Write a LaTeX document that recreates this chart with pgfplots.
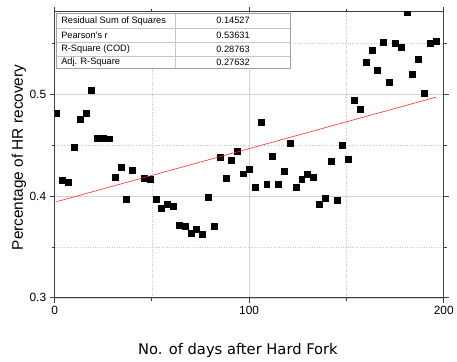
\documentclass[border=0pt]{standalone}
\usepackage{pgfplots}
\pgfplotsset{compat=1.18}
\usepackage{fontspec}
\setmainfont{Liberation Sans}
\newfontfamily\dejavu{DejaVu Sans}
\begin{document}
\begin{tikzpicture}
\begin{axis}[
  scale only axis, width=392pt, height=288pt,
  xmin=0, xmax=200, ymin=0.3, ymax=0.581,
  xtick={0,100,200}, minor xtick={50,150},
  ytick={0.3,0.4,0.5}, minor ytick={0.35,0.45,0.55},
  yticklabel style={/pgf/number format/fixed,/pgf/number format/precision=1},
  /pgf/number format/assume math mode=true,
  ticklabel style={font=\fontsize{12}{14}\selectfont},
  tick align=outside,
  major tick length=5pt, minor tick length=3pt,
  tick style={black!75, line width=0.8pt},
  axis line style={black!75, line width=1pt},
  grid=both,
  major grid style={gray!35, line width=0.6pt},
  minor grid style={gray!45, dotted, line width=0.5pt},
  clip marker paths=true,
  xlabel={\dejavu\fontsize{14.8}{17}\selectfont No. of days after Hard Fork},
  ylabel={\fontsize{15.5}{18}\selectfont Percentage of HR recovery},
  every axis x label/.style={at={(axis description cs:0.4712,-0.198)}, anchor=base},
  every axis y label/.style={at={(axis description cs:-0.0816,0.491)}, rotate=90, anchor=base},
]
\addplot[only marks, mark=square*, mark size=3pt, black] coordinates {
(1,0.4818) (4,0.4158) (7,0.4135) (10,0.448) (13,0.4753) (16,0.4818) (19,0.5036)
(22,0.457) (25,0.457) (28,0.4564) (31,0.4184) (34,0.428) (37,0.397) (40,0.425)
(46,0.418) (49,0.4164) (52,0.3972) (55,0.388) (58,0.3917) (61,0.3898) (64,0.3715)
(67,0.370) (70,0.3631) (73,0.3676) (76,0.3621) (79,0.3992) (82,0.370) (85,0.4379)
(88,0.4177) (91,0.4356) (94,0.444) (97,0.422) (100,0.4265) (103,0.409) (106,0.4727)
(109,0.412) (112,0.4389) (115,0.412) (118,0.4246) (121,0.4522) (124,0.4083)
(127,0.4168) (130,0.4216) (133,0.4187) (136,0.392) (139,0.3979) (142,0.4343)
(145,0.396) (148,0.45) (151,0.4359) (154,0.4938) (157,0.4854) (160,0.5315)
(163,0.5436) (166,0.524) (169,0.551) (172,0.5117) (175,0.5504) (178,0.5465)
(181,0.5807) (184,0.5198) (187,0.5348) (190,0.5013) (193,0.5504) (196,0.552)
};
\addplot[red!85!white, line width=0.6pt] coordinates {(1,0.3945) (196,0.4972)};
\end{axis}
\begin{scope}[shift={(current axis.north west)}, x=1pt, y=1pt]
  \fill[white] (2.3,-1.3) rectangle (237.7,-57.3);
  \draw[gray!45, line width=0.5pt] (2.3,-16.3) -- (237.7,-16.3)
    (2.3,-30.3) -- (237.7,-30.3) (2.3,-44.7) -- (237.7,-44.7)
    (121.7,-1.3) -- (121.7,-57.3);
  \draw[gray!75, line width=1.1pt] (2.3,-1.3) rectangle (237.7,-57.3);
  \begin{scope}[every node/.style={font=\fontsize{9.3}{11}\selectfont, inner sep=0pt}]
    \node[anchor=west] at (6.5,-8.8) {Residual Sum of Squares};
    \node[anchor=west] at (6.5,-23.3) {Pearson's r};
    \node[anchor=west] at (6.5,-37.5) {R-Square (COD)};
    \node[anchor=west] at (6.5,-51) {Adj. R-Square};
    \node at (179.7,-8.8) {0.14527};
    \node at (179.7,-23.3) {0.53631};
    \node at (179.7,-37.5) {0.28763};
    \node at (179.7,-51) {0.27632};
  \end{scope}
  \path (-55,12) rectangle (402,-352);
\end{scope}
\end{tikzpicture}
\end{document}
